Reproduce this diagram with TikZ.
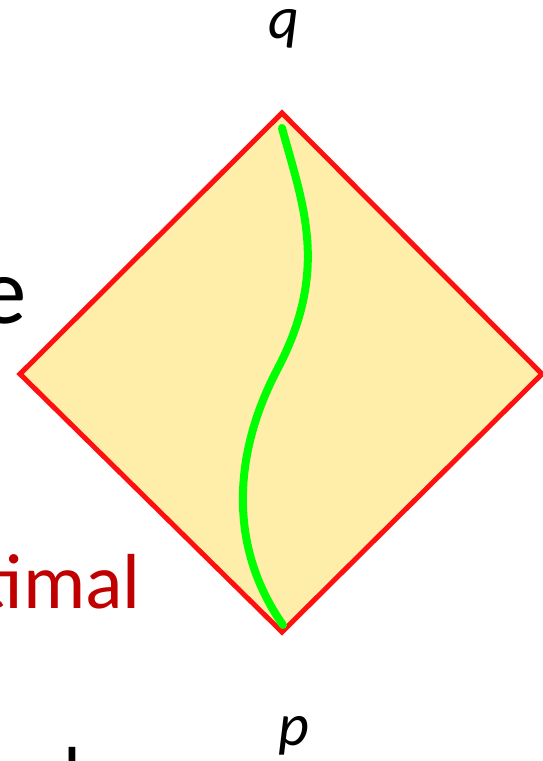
\documentclass[tikz,border=0pt]{standalone}
\usepackage{fontspec}
\setmainfont{Carlito}
\definecolor{fillyellow}{HTML}{FFEEAA}
\definecolor{edgered}{HTML}{FF1010}
\definecolor{curvegreen}{HTML}{00FF00}
\definecolor{textred}{HTML}{C00000}
\begin{document}
\begin{tikzpicture}[x=1pt,y=-1pt,
  diamondedge/.style={draw=edgered,line width=5pt,fill=fillyellow,line join=miter},
  worldline/.style={draw=curvegreen,line width=8pt,line cap=round},
  lbl/.style={inner sep=0pt,font=\fontsize{60}{60}\selectfont\itshape}]
\useasboundingbox (0,0) rectangle (543,761);
\coordinate (T) at (282,113);
\coordinate (L) at (20,374);
\coordinate (R) at (542,374);
\coordinate (B) at (282,632);
\coordinate (S) at (282,128);
\coordinate (M) at (277,370);
\coordinate (E) at (283,625);
\draw[diamondedge] (T) -- (R) -- (B) -- (L) -- cycle;
\draw[worldline] (S) .. controls (303,205) and (330,270) .. (M) .. controls (235,450) and (226,544) .. (E);
\node[lbl,anchor=base] (q) at (284,38) {q};
\node[lbl,anchor=base] (p) at (294,745) {p};
\node[inner sep=0pt,anchor=base east,font=\fontsize{95}{95}\selectfont] (e) at (27,323) {e};
\node[inner sep=0pt,anchor=base east,text=textred,font=\fontsize{78}{78}\selectfont] (imal) at (141,608) {timal};
\node[inner sep=0pt,anchor=north,font=\fontsize{78}{78}\selectfont] (bl) at (72,747) {l};
\end{tikzpicture}
\end{document}
